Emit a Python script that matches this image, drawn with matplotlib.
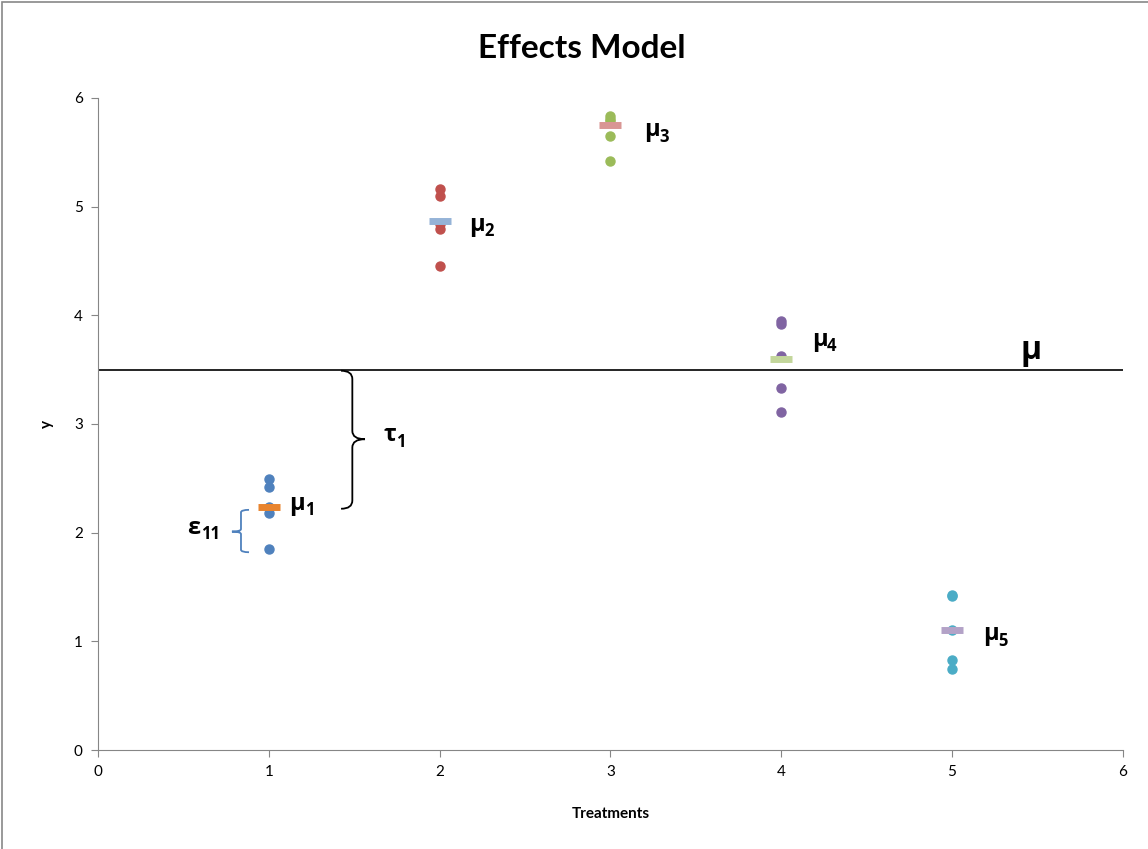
import matplotlib
matplotlib.use("Agg")
import matplotlib.pyplot as plt
from matplotlib.path import Path
from matplotlib.patches import PathPatch, Rectangle

plt.rcParams['font.family'] = ['Lato', 'DejaVu Sans']

treatments = [1, 2, 3, 4, 5]
obs = [
    [2.49, 2.42, 2.24, 2.18, 1.85],
    [5.16, 5.10, 4.84, 4.79, 4.45],
    [5.83, 5.81, 5.79, 5.65, 5.42],
    [3.95, 3.92, 3.63, 3.33, 3.11],
    [1.43, 1.42, 1.10, 0.83, 0.75],
]
means = [2.24, 4.87, 5.75, 3.60, 1.10]
grand_mean = 3.5
point_colors = ['#4F81BD', '#C0504D', '#9BBB59', '#8064A2', '#4BACC6']
mean_colors = ['#E8842F', '#95B3D7', '#D99694', '#C3D69B', '#B3A2C7']
mu_labels = ['1', '2', '3', '4', '5']
mu_label_pos = [(1.12, 2.21), (2.17, 4.78), (3.20, 5.65), (4.18, 3.72), (5.18, 1.01)]

fig = plt.figure(figsize=(11.48, 8.49), dpi=100)
ax = fig.add_axes([0.0854, 0.1166, 0.8926, 0.768])

for t, ys, pc, m, mc in zip(treatments, obs, point_colors, means, mean_colors):
    ax.plot([t] * len(ys), ys, 'o', color=pc, markersize=6.5, zorder=3)
    ax.plot([t], [m], marker='_', color=mc, markersize=16, markeredgewidth=5, zorder=4)

ax.axhline(grand_mean, color='black', lw=1.2, zorder=2)

# labels
gfont = ['Open Sans', 'DejaVu Sans']
for (x, y), s in zip(mu_label_pos, mu_labels):
    ax.annotate('μ', (x, y), fontsize=17, fontweight='bold', family=gfont, va='baseline')
    ax.annotate(s, (x, y), xytext=(11, -4), textcoords='offset points',
                fontsize=12, fontweight='bold', family=gfont, va='baseline')
ax.annotate('μ', (5.40, 3.60), fontsize=23, fontweight='bold', family=gfont, va='baseline')
ax.annotate('τ', (1.67, 2.84), fontsize=17, fontweight='bold', family=gfont, va='baseline')
ax.annotate('1', (1.67, 2.84), xytext=(9, -4), textcoords='offset points',
            fontsize=12, fontweight='bold', family=gfont, va='baseline')
ax.annotate('ε', (0.52, 1.99), fontsize=17, fontweight='bold', family=gfont, va='baseline')
ax.annotate('11', (0.52, 1.99), xytext=(10, -4), textcoords='offset points',
            fontsize=12, fontweight='bold', family=gfont, va='baseline')


def brace(ax, xh, xs, xt, ytop, ybot, ymid, color):
    r = (ytop - ybot) * 0.06
    verts = [(xh, ytop), (xs, ytop), (xs, ytop - r),
             (xs, ymid + r), (xs, ymid), (xt, ymid),
             (xs, ymid), (xs, ymid - r),
             (xs, ybot + r), (xs, ybot), (xh, ybot)]
    codes = [Path.MOVETO, Path.CURVE3, Path.CURVE3,
             Path.LINETO, Path.CURVE3, Path.CURVE3,
             Path.CURVE3, Path.CURVE3,
             Path.LINETO, Path.CURVE3, Path.CURVE3]
    ax.add_patch(PathPatch(Path(verts, codes), fill=False, edgecolor=color, lw=1.3))


brace(ax, 1.423, 1.489, 1.563, 3.49, 2.22, 2.86, 'black')
brace(ax, 0.884, 0.837, 0.784, 2.21, 1.82, 2.01, '#4F81BD')

ax.set_xlim(0, 6)
ax.set_ylim(0, 6)
ax.set_xticks(range(7))
ax.set_yticks(range(7))
for s in ['top', 'right']:
    ax.spines[s].set_visible(False)
for s in ['left', 'bottom']:
    ax.spines[s].set_color('#868686')
ax.tick_params(direction='out', length=5, color='#868686', labelsize=11, pad=6)
ax.set_xlabel('Treatments', fontsize=11, fontweight='bold', labelpad=20)
ax.set_ylabel('y', fontsize=11, fontweight='bold', labelpad=14)
fig.text(0.507, 0.943, 'Effects Model', ha='center', va='center',
         fontsize=24, fontweight='bold')

fig.patches.append(Rectangle((0.002, -0.01), 1.1, 1.008, transform=fig.transFigure,
                             fill=False, edgecolor='#888888', lw=1.2))

fig.savefig('out.png', dpi=100)
